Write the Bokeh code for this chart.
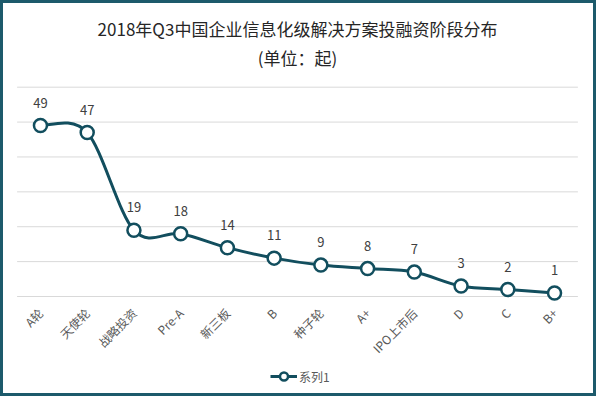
import math
import numpy as np
from bokeh.plotting import figure
from bokeh.models import ColumnDataSource, Label, Legend, LegendItem, Range1d
from bokeh.core.properties import value
from bokeh.embed import file_html
from bokeh.resources import INLINE

# ---- data ----
categories = ["A轮", "天使轮", "战略投资", "Pre-A", "新三板", "B", "种子轮", "A+", "IPO上市后", "D", "C", "B+"]
counts = [49, 47, 19, 18, 14, 11, 9, 8, 7, 3, 2, 1]
grid_ticks = [0, 10, 20, 30, 40, 50, 60]
series_name = "系列1"
title_text = "2018年Q3中国企业信息化级解决方案投融资阶段分布"
subtitle_text = "(单位：起)"

LINE = "#124E5E"
BORDER = "#1D5A6B"
FONT = "Noto Sans CJK SC"

W, H = 596, 396
n = len(categories)
xs = np.arange(n, dtype=float)
ys = np.array(counts, dtype=float)

# pixel layout of the data area inside the figure
left_px, right_px = 16.6, 577.4
top_px, bottom_px = 86.7, 296.0
xpx = (right_px - left_px) / n
ypx = (bottom_px - top_px) / 60.0
x_start = -0.5 - left_px / xpx
x_end = x_start + W / xpx
y_start = -(H - bottom_px) / ypx
y_end = y_start + H / ypx

# smoothed line (Catmull-Rom style bezier segments built from the data)
px = np.concatenate([[xs[0]], xs, [xs[-1]]])
py = np.concatenate([[ys[0]], ys, [ys[-1]]])
x0, y0 = xs[:-1], ys[:-1]
x1, y1 = xs[1:], ys[1:]
cx0 = x0 + (px[2:-1] - px[:-3]) / 6.0
cy0 = y0 + (py[2:-1] - py[:-3]) / 6.0
cx1 = x1 - (px[3:] - px[1:-2]) / 6.0
cy1 = y1 - (py[3:] - py[1:-2]) / 6.0
seg = ColumnDataSource(dict(x0=x0, y0=y0, x1=x1, y1=y1, cx0=cx0, cy0=cy0, cx1=cx1, cy1=cy1))
pts = ColumnDataSource(dict(x=xs, y=ys, lab=[str(v) for v in counts]))
cats = ColumnDataSource(dict(x=xs, y=np.zeros(n), lab=categories))
grid = ColumnDataSource(dict(x0=np.full(len(grid_ticks), -0.5), x1=np.full(len(grid_ticks), n - 0.5),
                             y=np.array(grid_ticks, dtype=float)))

p = figure(width=W, height=H, output_backend="svg", toolbar_location=None,
           x_range=Range1d(x_start, x_end), y_range=Range1d(y_start, y_end),
           min_border=0, min_border_left=0, min_border_right=0, min_border_top=0, min_border_bottom=0)
p.xaxis.visible = False
p.yaxis.visible = False
p.xgrid.visible = False
p.ygrid.visible = False
p.background_fill_color = "white"
p.border_fill_color = "white"
p.outline_line_color = BORDER
p.outline_line_width = 5

p.segment(x0="x0", y0="y", x1="x1", y1="y", source=grid, line_color="#D9D9D9", line_width=1)

br = p.bezier(x0="x0", y0="y0", x1="x1", y1="y1", cx0="cx0", cy0="cy0", cx1="cx1", cy1="cy1",
              source=seg, line_color=LINE, line_width=3)
sr = p.scatter("x", "y", source=pts, size=13, fill_color="white", line_color=LINE, line_width=2.5)
p.text("x", "y", text="lab", source=pts, y_offset=-23, text_align="center", text_baseline="middle",
       text_font=value(FONT), text_font_size="13px", text_color="#404040")

# category labels, rotated 45 degrees
p.text("x", "y", text="lab", source=cats, angle=math.pi / 4, x_offset=0, y_offset=14,
       text_align="right", text_baseline="middle", text_font=value(FONT),
       text_font_size="12px", text_color="#595959")

p.add_layout(Label(x=(left_px + right_px) / 2, y=H - 28, x_units="screen", y_units="screen",
                   text=title_text, text_align="center", text_baseline="middle", text_font=FONT,
                   text_font_size="17px", text_color="#262626"))
p.add_layout(Label(x=(left_px + right_px) / 2, y=H - 57, x_units="screen", y_units="screen",
                   text=subtitle_text, text_align="center", text_baseline="middle", text_font=FONT,
                   text_font_size="17px", text_color="#262626"))

leg = Legend(items=[LegendItem(label=series_name, renderers=[br, sr])], location=(270, 10),
             orientation="horizontal", border_line_color=None, background_fill_alpha=0,
             padding=0, margin=0, glyph_width=27, glyph_height=20, label_standoff=2,
             label_text_font=FONT, label_text_font_size="12px", label_text_color="#595959")
p.add_layout(leg)

open("out.html", "w").write(file_html(p, INLINE))
